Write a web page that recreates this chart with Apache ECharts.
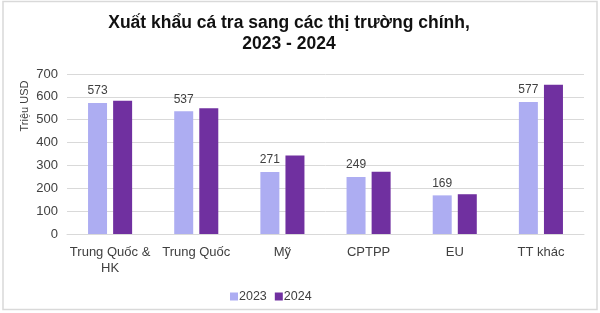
<!DOCTYPE html>
<html><head><meta charset="utf-8">
<script src="https://cdn.jsdelivr.net/npm/echarts@6/dist/echarts.min.js"></script>
<style>html,body{margin:0;padding:0;background:#fff}#c{width:600px;height:313px}</style>
</head><body><div id="c"></div>
<script>
var categories = ['Trung Quốc &\nHK', 'Trung Quốc', 'Mỹ', 'CPTPP', 'EU', 'TT khác'];
var values2023 = [573, 537, 271, 249, 169, 577];
var values2024 = [583, 550, 343, 272, 174, 653];
var seriesNames = ['2023', '2024'];
var yTicks = [0, 100, 200, 300, 400, 500, 600, 700];

var chart = echarts.init(document.getElementById('c'), null, {renderer: 'canvas'});
var font = 'Liberation Sans, Arial, sans-serif';
chart.setOption({
  animation: false,
  backgroundColor: '#fff',
  title: {
    text: 'Xuất khẩu cá tra sang các thị trường chính,\n2023 - 2024',
    left: 284, top: 8, textAlign: 'center',
    textStyle: {fontFamily: font, fontWeight: 'bold', fontSize: 17.5, color: '#111', lineHeight: 21}
  },
  graphic: [
    {type: 'rect', shape: {x: 3, y: 1.5, width: 594, height: 308}, style: {fill: 'none', stroke: '#d9d9d9', lineWidth: 1.5}, z: -1},
    {type: 'text', x: 25, y: 106, rotation: Math.PI / 2,
     style: {text: 'Triệu USD', fontFamily: font, fontSize: 11, fill: '#404040', textAlign: 'center', textVerticalAlign: 'middle'}}
  ],
  legend: {
    data: seriesNames, left: 225, top: 285, itemWidth: 8, itemHeight: 8, itemGap: 8,
    icon: 'rect',
    textStyle: {fontFamily: font, fontSize: 12.5, color: '#404040', padding: [0, 0, 0, -4]}
  },
  grid: {left: 67, right: 16, top: 74, bottom: 79, containLabel: false},
  xAxis: {
    type: 'category', data: categories,
    axisTick: {show: false},
    axisLine: {lineStyle: {color: '#d9d9d9'}},
    axisLabel: {fontFamily: font, fontSize: 13, color: '#404040', margin: 10, lineHeight: 16, interval: 0}
  },
  yAxis: {
    type: 'value', min: yTicks[0], max: yTicks[yTicks.length - 1], interval: 100,
    axisLine: {show: false}, axisTick: {show: false},
    splitLine: {lineStyle: {color: '#d9d9d9'}},
    axisLabel: {fontFamily: font, fontSize: 13, color: '#404040', margin: 9}
  },
  series: [
    {name: seriesNames[0], type: 'bar', data: values2023, barWidth: 19, barGap: '32%',
     itemStyle: {color: '#adadf2'},
     label: {show: true, position: 'top', distance: 6, fontFamily: font, fontSize: 12, color: '#404040'}},
    {name: seriesNames[1], type: 'bar', data: values2024, barWidth: 19,
     itemStyle: {color: '#7030a0'}}
  ]
});
</script></body></html>
